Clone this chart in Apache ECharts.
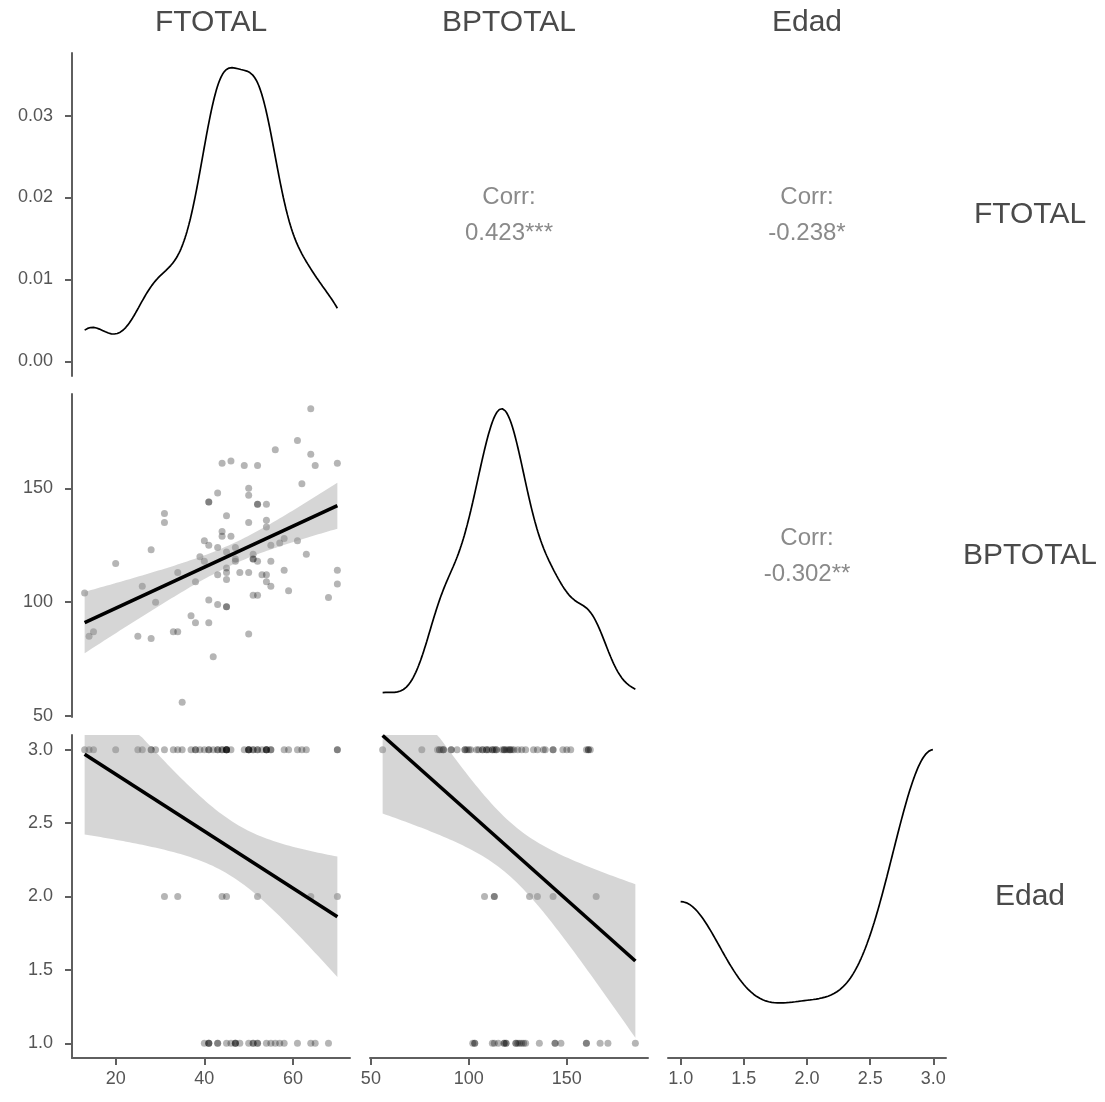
<!DOCTYPE html>
<html>
<head>
<meta charset="utf-8">
<script src="https://cdn.jsdelivr.net/npm/echarts@6/dist/echarts.min.js"></script>
<style>
  html, body { margin: 0; padding: 0; background: #ffffff; }
  #chart { width: 1105px; height: 1102px; }
</style>
</head>
<body>
<div id="chart"></div>
<script>
// One entry per respondent; the three arrays share the same order.
const ftotal = [
  13, 14, 15, 20, 25, 26, 28, 28, 29, 31, 31, 33, 34, 34, 35, 37, 38, 38, 39, 40,
  40, 41, 41, 41, 41, 41, 42, 43, 43, 43, 43, 44, 44, 44, 45, 45, 45, 45, 45, 45,
  45, 46, 46, 47, 47, 47, 48, 49, 50, 50, 50, 50, 50, 51, 51, 51, 51, 52, 52, 52,
  52, 52, 53, 54, 54, 54, 54, 54, 55, 55, 55, 56, 57, 58, 58, 59, 61, 61, 62, 63,
  64, 64, 65, 68, 70, 70, 70
];
const bptotal = [
  104, 85, 87, 117, 85, 107, 123, 84, 100, 139, 135, 87, 87, 113, 56, 94, 109, 91, 120, 127,
  118, 144, 144, 125, 101, 91, 76, 148, 124, 112, 99, 161, 131, 129, 138, 122, 115, 113, 110, 98,
  98, 162, 129, 119, 124, 118, 113, 160, 150, 147, 135, 113, 86, 121, 119, 119, 103, 103, 160, 143,
  143, 118, 112, 143, 136, 133, 112, 109, 125, 118, 107, 167, 126, 128, 114, 105, 171, 127, 152, 121,
  185, 165, 160, 102, 161, 114, 108
];
const edad = [
  3, 3, 3, 3, 3, 3, 3, 3, 3, 3, 2, 3, 3, 2, 3, 3, 3, 3, 3, 1,
  3, 1, 1, 1, 3, 3, 3, 3, 1, 1, 3, 3, 2, 3, 3, 3, 1, 2, 3, 3,
  3, 3, 1, 1, 1, 1, 1, 3, 3, 1, 3, 3, 3, 3, 3, 1, 1, 1, 1, 2,
  3, 3, 3, 3, 1, 3, 3, 3, 3, 1, 3, 1, 1, 1, 3, 3, 1, 3, 3, 3,
  1, 2, 1, 1, 3, 3, 2
];

const varNames = ['FTOTAL', 'BPTOTAL', 'Edad'];
// Pearson correlations printed in the upper panels (row-col)
const corrLabels = { '0-1': '0.423***', '0-2': '-0.238*', '1-2': '-0.302**' };
const varTicks = [[20, 40, 60], [50, 100, 150], [1, 1.5, 2, 2.5, 3]];
const tickDecimals = [0, 0, 1];
const densityTicks = [0, 0.01, 0.02, 0.03];

const columns = [ftotal, bptotal, edad];

// ---------- statistics ----------
const mean = v => v.reduce((a, b) => a + b, 0) / v.length;
function sd(v) {
  const m = mean(v);
  return Math.sqrt(v.reduce((a, b) => a + (b - m) * (b - m), 0) / (v.length - 1));
}
function quantile(v, p) {
  const s = v.slice().sort((a, b) => a - b);
  const h = (s.length - 1) * p, lo = Math.floor(h), hi = Math.ceil(h);
  return s[lo] + (h - lo) * (s[hi] - s[lo]);
}
function bwNrd0(v) {
  const lo = Math.min(sd(v), (quantile(v, 0.75) - quantile(v, 0.25)) / 1.34);
  return 0.9 * lo * Math.pow(v.length, -0.2);
}
// Gaussian kernel density over the range of the data
function kde(v, m = 512) {
  const bw = bwNrd0(v);
  const lo = Math.min(...v), hi = Math.max(...v);
  const k = 1 / (v.length * bw * Math.sqrt(2 * Math.PI));
  const out = [];
  for (let i = 0; i < m; i++) {
    const x = lo + (hi - lo) * i / (m - 1);
    let s = 0;
    for (const xi of v) { const z = (x - xi) / bw; s += Math.exp(-0.5 * z * z); }
    out.push([x, s * k]);
  }
  return out;
}
// Least-squares line with a 95% confidence band (t, df = n - 2)
const T975 = 1.988;
function linFit(x, y, m = 80) {
  const n = x.length, mx = mean(x), my = mean(y);
  let sxx = 0, sxy = 0;
  for (let i = 0; i < n; i++) { sxx += (x[i] - mx) ** 2; sxy += (x[i] - mx) * (y[i] - my); }
  const b = sxy / sxx, a = my - b * mx;
  let sse = 0;
  for (let i = 0; i < n; i++) sse += (y[i] - a - b * x[i]) ** 2;
  const s = Math.sqrt(sse / (n - 2));
  const lo = Math.min(...x), hi = Math.max(...x);
  const xs = [], yl = [], yu = [];
  for (let i = 0; i < m; i++) {
    const xv = lo + (hi - lo) * i / (m - 1);
    const fit = a + b * xv;
    const se = s * Math.sqrt(1 / n + (xv - mx) ** 2 / sxx);
    xs.push(xv); yl.push(fit - T975 * se); yu.push(fit + T975 * se);
  }
  return { a, b, lo, hi, xs, yl, yu };
}
function expanded(lo, hi) {
  const d = (hi - lo) * 0.05;
  return [lo - d, hi + d];
}

// ---------- layout ----------
const colLeft = [72, 370, 668];
const rowTop = [53, 394, 735];
const panelW = 278, panelH = 323;
const FONT = "'Liberation Sans', Arial, Helvetica, sans-serif";
const AXIS_COLOR = '#5f5f5f';

const ranges = columns.map(v => expanded(Math.min(...v), Math.max(...v)));
const densities = columns.map(v => kde(v));
// density panels start their scale at zero
const densityRanges = densities.map(d => expanded(0, Math.max(...d.map(p => p[1]))));

function axisCfg(show, gi, range, ticks, decimals, isX) {
  const base = { gridIndex: gi, type: 'value', min: range[0], max: range[1], scale: true };
  if (!show) return Object.assign(base, { show: false, splitLine: { show: false } });
  return Object.assign(base, {
    show: true,
    axisLine: { show: true, onZero: false, lineStyle: { color: AXIS_COLOR, width: 2 } },
    axisTick: { show: true, inside: false, length: 7, customValues: ticks,
      lineStyle: { color: AXIS_COLOR, width: 2 } },
    axisLabel: { show: true, customValues: ticks, margin: isX ? 12 : 19,
      color: '#555555', fontSize: 18, fontFamily: FONT,
      formatter: val => Number(val).toFixed(decimals) },
    splitLine: { show: false }
  });
}

const grids = [], xAxes = [], yAxes = [], series = [], graphics = [];
let gi = 0;
for (let r = 0; r < 3; r++) {
  for (let c = 0; c < 3; c++) {
    grids.push({ left: colLeft[c], top: rowTop[r], width: panelW, height: panelH,
      containLabel: false });
    xAxes.push(axisCfg(r === 2, gi, ranges[c], varTicks[c], tickDecimals[c], true));
    if (r === c) {
      const showY = c === 0;
      yAxes.push(axisCfg(showY, gi, densityRanges[c], densityTicks, 2, false));
      series.push({
        type: 'line', xAxisIndex: gi, yAxisIndex: gi, data: densities[c],
        showSymbol: false, symbol: 'none', smooth: false, silent: true,
        lineStyle: { color: '#000000', width: 1.7 }, z: 3
      });
    } else if (r > c) {
      yAxes.push(axisCfg(c === 0, gi, ranges[r], varTicks[r], tickDecimals[r], false));
      const xv = columns[c], yv = columns[r];
      series.push({
        type: 'scatter', xAxisIndex: gi, yAxisIndex: gi, silent: true,
        data: xv.map((x, i) => [x, yv[i]]),
        symbol: 'circle', symbolSize: 7,
        itemStyle: { color: 'rgba(0,0,0,0.36)', borderWidth: 0 }, z: 2
      });
      const fit = linFit(xv, yv);
      series.push({
        type: 'custom', xAxisIndex: gi, yAxisIndex: gi, coordinateSystem: 'cartesian2d',
        silent: true, clip: true, z: 3,
        data: [[fit.xs[0], fit.yl[0]]],
        renderItem: (params, api) => {
          const pts = [];
          for (let i = 0; i < fit.xs.length; i++) pts.push(api.coord([fit.xs[i], fit.yu[i]]));
          for (let i = fit.xs.length - 1; i >= 0; i--) pts.push(api.coord([fit.xs[i], fit.yl[i]]));
          const cs = params.coordSys;
          const clipped = echarts.graphic.clipPointsByRect(pts,
            { x: cs.x, y: cs.y, width: cs.width, height: cs.height });
          return { type: 'polygon', shape: { points: clipped },
            style: { fill: 'rgba(153,153,153,0.4)' } };
        }
      });
      series.push({
        type: 'line', xAxisIndex: gi, yAxisIndex: gi, silent: true, clip: true,
        data: [[fit.lo, fit.a + fit.b * fit.lo], [fit.hi, fit.a + fit.b * fit.hi]],
        showSymbol: false, symbol: 'none',
        lineStyle: { color: '#000000', width: 3.6 }, z: 4
      });
    } else {
      yAxes.push(axisCfg(false, gi, ranges[r], varTicks[r], tickDecimals[r], false));
      const cx = colLeft[c] + panelW / 2, cy = rowTop[r] + panelH / 2;
      graphics.push({ type: 'text', x: cx, y: cy - 17, silent: true,
        style: { text: 'Corr:', fill: '#8a8a8a', font: `24px ${FONT}`,
          textAlign: 'center', textVerticalAlign: 'middle' } });
      graphics.push({ type: 'text', x: cx, y: cy + 19, silent: true,
        style: { text: corrLabels[r + '-' + c], fill: '#8a8a8a', font: `24px ${FONT}`,
          textAlign: 'center', textVerticalAlign: 'middle' } });
    }
    gi++;
  }
}

// variable names along the top and the right side
for (let c = 0; c < 3; c++) {
  graphics.push({ type: 'text', x: colLeft[c] + panelW / 2, y: 23, silent: true,
    style: { text: varNames[c], fill: '#4a4a4a', font: `30px ${FONT}`,
      textAlign: 'center', textVerticalAlign: 'middle' } });
}
for (let r = 0; r < 3; r++) {
  graphics.push({ type: 'text', x: 1030, y: rowTop[r] + panelH / 2, silent: true,
    style: { text: varNames[r], fill: '#4a4a4a', font: `30px ${FONT}`,
      textAlign: 'center', textVerticalAlign: 'middle' } });
}

const chart = echarts.init(document.getElementById('chart'), null, { renderer: 'canvas' });
chart.setOption({
  animation: false,
  backgroundColor: '#ffffff',
  grid: grids,
  xAxis: xAxes,
  yAxis: yAxes,
  series: series,
  graphic: graphics
});
</script>
</body>
</html>
